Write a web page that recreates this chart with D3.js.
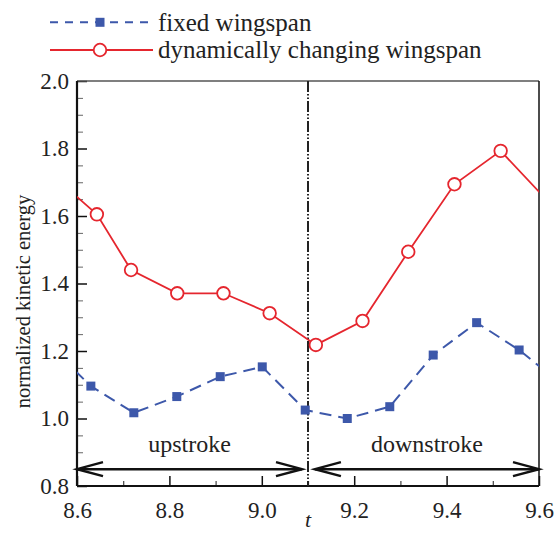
<!DOCTYPE html>
<html>
<head>
<meta charset="utf-8">
<script src="https://cdn.jsdelivr.net/npm/d3@7"></script>
<style>
  body { margin: 0; background: #fff; }
  svg, svg text { font-family: "Liberation Serif", "Times New Roman", serif; }
</style>
</head>
<body>
<div id="chart"></div>
<script>
// fixed wingspan (blue squares)
const fixedT = [8.537, 8.630, 8.723, 8.816, 8.910, 9.001, 9.094, 9.185, 9.277, 9.371, 9.465, 9.557, 9.650];
const fixedE = [1.220, 1.096, 1.017, 1.065, 1.124, 1.153, 1.025, 1.000, 1.035, 1.188, 1.284, 1.203, 1.100];
// dynamically changing wingspan (red circles)
const dynT = [8.550, 8.643, 8.717, 8.817, 8.917, 9.017, 9.117, 9.218, 9.317, 9.417, 9.517, 9.617];
const dynE = [1.717, 1.605, 1.440, 1.371, 1.371, 1.312, 1.218, 1.289, 1.494, 1.694, 1.793, 1.647];

const xTicks = [8.6, 8.8, 9.0, 9.2, 9.4, 9.6];
const yTicks = [0.8, 1.0, 1.2, 1.4, 1.6, 1.8, 2.0];
const strokeSplit = 9.1;
const legendNames = ["fixed wingspan", "dynamically changing wingspan"];
const phaseNames = ["upstroke", "downstroke"];

const W = 555, H = 533;
const m = {left: 77, top: 81, right: 16, bottom: 47};
const w = W - m.left - m.right, h = H - m.top - m.bottom;
const blue = "#3d58aa", red = "#e5262e";
const serif = "'Liberation Serif', 'Times New Roman', serif";

const svg = d3.select("#chart").append("svg").attr("width", W).attr("height", H);
const g = svg.append("g").attr("transform", `translate(${m.left},${m.top})`);

const x = d3.scaleLinear().domain([8.6, 9.6]).range([0, w]);
const y = d3.scaleLinear().domain([0.8, 2.0]).range([h, 0]);

svg.append("defs").append("clipPath").attr("id", "clip")
  .append("rect").attr("width", w).attr("height", h);

// minor ticks
const yMinor = d3.range(0.85, 2.0, 0.05).filter(v => Math.abs(v * 5 - Math.round(v * 5)) > 1e-6);
const xMinor = d3.range(8.7, 9.6, 0.2);
g.append("g").call(d3.axisLeft(y).tickValues(yMinor).tickSize(-6).tickFormat(""))
  .call(s => s.select(".domain").remove())
  .selectAll("line").attr("stroke", "#666").attr("stroke-width", 1);
g.append("g").attr("transform", `translate(0,${h})`)
  .call(d3.axisBottom(x).tickValues(xMinor).tickSize(-5).tickFormat(""))
  .call(s => s.select(".domain").remove())
  .selectAll("line").attr("stroke", "#444").attr("stroke-width", 1.2);

// major axes
const yAxis = g.append("g").call(d3.axisLeft(y).tickValues(yTicks).tickSize(-10).tickPadding(8).tickFormat(d3.format(".1f")));
yAxis.attr("font-family", null).attr("font-size", null);
yAxis.select(".domain").remove();
yAxis.selectAll("line").attr("stroke", "#111").attr("stroke-width", 1.5);
yAxis.selectAll("text").style("font-family", serif).style("font-size", "23px").attr("fill", "#222");

const xAxis = g.append("g").attr("transform", `translate(0,${h})`)
  .call(d3.axisBottom(x).tickValues(xTicks).tickSize(-10).tickPadding(16).tickFormat(d3.format(".1f")));
xAxis.attr("font-family", null).attr("font-size", null);
xAxis.select(".domain").remove();
xAxis.selectAll("line").attr("stroke", "#111").attr("stroke-width", 1.5);
xAxis.selectAll("text").style("font-family", serif).style("font-size", "23px").attr("fill", "#222");

// frame
g.append("line").attr("x1", 0).attr("x2", w).attr("y1", 0).attr("y2", 0).attr("stroke", "#555").attr("stroke-width", 1.5);
g.append("line").attr("x1", w).attr("x2", w).attr("y1", 0).attr("y2", h).attr("stroke", "#111").attr("stroke-width", 1.5);
g.append("line").attr("x1", 0).attr("x2", 0).attr("y1", 0).attr("y2", h).attr("stroke", "#111").attr("stroke-width", 2.2);
g.append("line").attr("x1", 0).attr("x2", w).attr("y1", h).attr("y2", h).attr("stroke", "#111").attr("stroke-width", 2.2);

// vertical split line
g.append("line").attr("x1", x(strokeSplit)).attr("x2", x(strokeSplit)).attr("y1", 0).attr("y2", h)
  .attr("stroke", "#222").attr("stroke-width", 2).attr("stroke-dasharray", "11,2,1.5,2,1.5,2");

// series
const fixedData = fixedT.map((t, i) => ({t, e: fixedE[i]}));
const dynData = dynT.map((t, i) => ({t, e: dynE[i]}));
const line = d3.line().x(d => x(d.t)).y(d => y(d.e));
const inside = d => d.t >= 8.6 && d.t <= 9.6;

const plot = g.append("g").attr("clip-path", "url(#clip)");
plot.append("path").datum(fixedData).attr("d", line).attr("fill", "none")
  .attr("stroke", blue).attr("stroke-width", 2).attr("stroke-dasharray", "12,7");
plot.selectAll(".sq").data(fixedData.filter(inside)).join("rect").attr("class", "sq")
  .attr("x", d => x(d.t) - 4.5).attr("y", d => y(d.e) - 4.5).attr("width", 9).attr("height", 9).attr("fill", blue);

plot.append("path").datum(dynData).attr("d", line).attr("fill", "none")
  .attr("stroke", red).attr("stroke-width", 1.8);
plot.selectAll(".ci").data(dynData.filter(inside)).join("circle").attr("class", "ci")
  .attr("cx", d => x(d.t)).attr("cy", d => y(d.e)).attr("r", 6.3)
  .attr("fill", "#fff").attr("stroke", red).attr("stroke-width", 1.8);

// phase arrows
const arrowY = y(0.85);
const arrows = [[8.6, 9.087], [9.115, 9.6]];
const head = (px, dir) => `M${px + dir * 26},${arrowY - 7}L${px},${arrowY}L${px + dir * 26},${arrowY + 7}`;
arrows.forEach(([a, b], i) => {
  g.append("line").attr("x1", x(a)).attr("x2", x(b)).attr("y1", arrowY).attr("y2", arrowY)
    .attr("stroke", "#111").attr("stroke-width", 2.5);
  g.append("path").attr("d", head(x(a), 1)).attr("fill", "none").attr("stroke", "#111").attr("stroke-width", 2.5);
  g.append("path").attr("d", head(x(b), -1)).attr("fill", "none").attr("stroke", "#111").attr("stroke-width", 2.5);
  g.append("text").attr("x", (x(a) + x(b)) / 2).attr("y", arrowY - 17).attr("text-anchor", "middle")
    .attr("font-size", 24).attr("fill", "#222").text(phaseNames[i]);
});

// axis titles
svg.append("text").attr("transform", `translate(30,${m.top + h / 2 + 18}) rotate(-90)`)
  .attr("text-anchor", "middle").attr("font-size", 20.5).attr("fill", "#222").text("normalized kinetic energy");
svg.append("text").attr("x", m.left + x(strokeSplit)).attr("y", 527).attr("text-anchor", "middle")
  .attr("font-size", 22).attr("font-style", "italic").attr("fill", "#222").text("t");

// legend
const leg = svg.append("g");
const legY = [22.3, 50];
leg.append("line").attr("x1", 50).attr("x2", 153).attr("y1", legY[0]).attr("y2", legY[0])
  .attr("stroke", blue).attr("stroke-width", 2).attr("stroke-dasharray", "8,7");
leg.append("rect").attr("x", 100 - 4.5).attr("y", legY[0] - 4.5).attr("width", 9).attr("height", 9).attr("fill", blue);
leg.append("line").attr("x1", 50).attr("x2", 153).attr("y1", legY[1]).attr("y2", legY[1])
  .attr("stroke", red).attr("stroke-width", 1.8);
leg.append("circle").attr("cx", 100).attr("cy", legY[1]).attr("r", 6.3)
  .attr("fill", "#fff").attr("stroke", red).attr("stroke-width", 1.8);
legendNames.forEach((n, i) => {
  leg.append("text").attr("x", 158).attr("y", legY[i] + 8.3).attr("font-size", 25).attr("fill", "#222").text(n);
});
</script>
</body>
</html>
